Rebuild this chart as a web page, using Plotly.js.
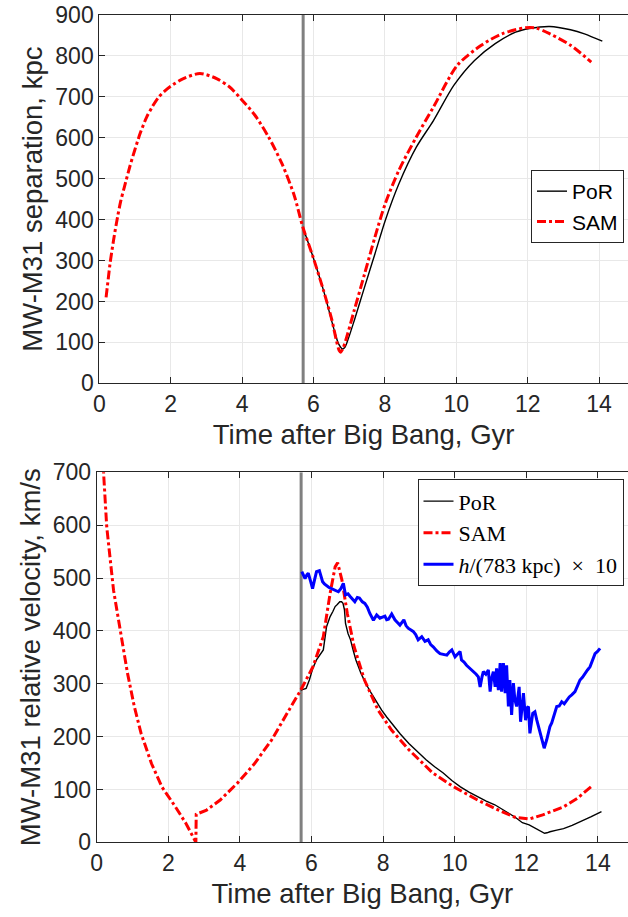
<!DOCTYPE html>
<html>
<head>
<meta charset="utf-8">
<script src="https://cdn.plot.ly/plotly-3.0.1.min.js"></script>
<style>html,body{margin:0;padding:0;background:#fff;}</style>
</head>
<body>
<div id="chart" style="width:628px;height:917px;"></div>
<script>
// ---------- data ----------
const markerTime = 5.71; // vertical reference line, Gyr
const sepRange = [0, 900];
const velRange = [0, 700];

// Top panel: MW-M31 separation (kpc)
const sepSAM_t = [0.19,0.25,0.30,0.40,0.51,0.60,0.70,0.85,0.99,1.15,1.33,1.50,1.66,1.83,2.00,2.34,2.82,3.30,3.65,3.97,4.36,4.74,5.12,5.46,5.70,5.99,6.28,6.52,6.64,6.72,6.76,6.82,6.90,7.14,7.43,7.72,8.01,8.39,8.88,9.36,10.03,10.70,11.28,11.95,12.24,12.62,13.20,13.78];
const sepSAM_v = [210,255,292,350,406,445,479,528,569,612,651,678,699,714,726,744,757,744,724,695,655,602,536,459,382,308,227,153,105,80,76,84,104,178,267,357,439,520,602,675,777,826,854,869,868,854,826,785];

const sepPoR_t = [5.70,5.99,6.28,6.57,6.70,6.81,6.88,6.96,7.14,7.43,7.72,8.01,8.39,8.88,9.36,9.93,10.51,11.09,11.66,12.05,12.62,13.20,13.59,14.09];
const sepPoR_v = [382,308,227,133,97,84,88,105,153,235,316,398,487,577,642,728,789,830,858,867,872,864,854,836];

// Bottom panel: relative velocity (km/s)
const velSAM_t = [0.14,0.20,0.28,0.47,0.67,0.86,1.05,1.24,1.53,1.82,2.20,2.49,2.74,2.77,2.78,3.07,3.45,3.93,4.41,4.89,5.37,5.70,6.04,6.33,6.52,6.66,6.73,6.85,7.00,7.19,7.48,7.86,8.24,8.72,9.39,9.97,10.64,11.31,11.70,12.08,12.46,13.04,13.42,13.81];
const velSAM_v = [760,680,597,477,395,320,257,206,149,105,67,36,4,0,53,61,80,112,149,194,250,288,332,389,471,521,529,496,433,370,307,250,212,175,131,105,80,58,47,44,52,67,83,105];

const velPoR_t = [5.70,5.78,5.85,5.94,6.04,6.14,6.25,6.33,6.42,6.52,6.60,6.66,6.72,6.79,6.84,6.88,6.92,6.95,7.02,7.09,7.17,7.24,7.38,7.52,7.67,7.82,7.96,8.10,8.24,8.48,8.72,8.96,9.20,9.44,9.68,9.92,10.16,10.40,10.64,10.88,11.12,11.32,11.51,11.70,11.89,12.08,12.27,12.40,12.51,12.58,12.66,12.85,13.04,13.28,13.52,13.80,14.10];
const velPoR_v = [288,289,291,307,330,345,355,364,408,427,437,446,450,455,455,452,440,414,395,383,362,345,320,300,282,265,250,237,225,205,187,171,156,143,131,117,105,95,86,78,71,62,55,47,37,33,26,22,17,18,20,23,26,32,39,48,58];

const hRatio_t = [5.73,5.78,5.82,5.87,5.91,5.97,6.03,6.09,6.14,6.22,6.27,6.31,6.36,6.42,6.49,6.56,6.65,6.75,6.82,6.89,6.95,7.02,7.08,7.15,7.21,7.28,7.34,7.42,7.49,7.56,7.63,7.73,7.82,7.91,8.05,8.10,8.15,8.24,8.33,8.40,8.47,8.58,8.64,8.70,8.84,8.91,8.98,9.08,9.17,9.26,9.33,9.40,9.50,9.59,9.70,9.78,9.85,9.92,10.01,10.08,10.15,10.19,10.26,10.33,10.43,10.52,10.60,10.66,10.71,10.76,10.80,10.87,10.94,10.99,11.03,11.08,11.13,11.17,11.22,11.27,11.31,11.36,11.41,11.45,11.50,11.54,11.59,11.64,11.68,11.73,11.80,11.84,11.88,11.92,11.98,12.03,12.06,12.10,12.18,12.24,12.29,12.34,12.43,12.50,12.57,12.62,12.66,12.71,12.76,12.85,12.92,12.99,13.06,13.13,13.20,13.27,13.36,13.43,13.50,13.57,13.64,13.71,13.78,13.85,13.92,13.99,14.06];
const hRatio_v = [512,505,499,506,509,495,480,498,512,514,502,493,489,485,482,480,477,474,480,490,468,470,465,460,455,463,462,455,452,445,433,420,430,424,428,421,422,432,421,416,411,421,410,405,399,393,383,389,380,383,374,370,362,357,356,354,360,364,351,356,361,345,341,335,329,323,318,313,294,312,323,318,326,285,310,323,294,329,288,339,285,339,282,335,257,307,241,301,270,257,294,228,262,282,231,255,257,206,244,247,232,219,200,178,194,208,219,226,238,257,258,266,262,269,275,279,285,296,307,312,320,326,332,345,357,361,367];

const xTicks = [0,2,4,6,8,10,12,14];
const sepTicks = [0,100,200,300,400,500,600,700,800,900];
const velTicks = [0,100,200,300,400,500,600,700];

// ---------- styling ----------
const W = 628, H = 917;
const ink = '#262626';
const grid = '#e8e8e8';
const sans = 'Liberation Sans, Arial, Helvetica, sans-serif';
const serif = 'Liberation Serif, Times New Roman, serif';

const traces = [
  {x:[markerTime, markerTime], y:sepRange, xaxis:'x', yaxis:'y', mode:'lines',
   line:{color:'#808080', width:3}, showlegend:false, hoverinfo:'skip'},
  {x:[markerTime, markerTime], y:velRange, xaxis:'x2', yaxis:'y2', mode:'lines',
   line:{color:'#808080', width:3}, showlegend:false, hoverinfo:'skip'},
  {x: sepPoR_t, y: sepPoR_v, xaxis:'x', yaxis:'y', mode:'lines', name:'PoR',
   line:{color:'#000000', width:1.4, shape:'spline', smoothing:0.8}, legend:'legend'},
  {x: sepSAM_t, y: sepSAM_v, xaxis:'x', yaxis:'y', mode:'lines', name:'SAM',
   line:{color:'#ff0000', width:3, dash:'dashdot', shape:'spline', smoothing:0.8}, legend:'legend'},
  {x: velPoR_t, y: velPoR_v, xaxis:'x2', yaxis:'y2', mode:'lines', name:'PoR',
   line:{color:'#000000', width:1.4}, legend:'legend2'},
  {x: velSAM_t, y: velSAM_v, xaxis:'x2', yaxis:'y2', mode:'lines', name:'SAM',
   line:{color:'#ff0000', width:3, dash:'dashdot'}, legend:'legend2'},
  {x: hRatio_t, y: hRatio_v, xaxis:'x2', yaxis:'y2', mode:'lines',
   name:'<i>h</i>/(783\u00a0kpc)\u00a0\u00a0×\u00a0\u00a010',
   line:{color:'#0000ff', width:3}, legend:'legend2'}
];

function xAxis(dom, rng, anchor) {
  return {
    domain: dom, range: rng, anchor: anchor, tickvals: xTicks,
    ticks:'inside', ticklen:6, tickcolor: ink, tickwidth:1,
    showline:true, linecolor: ink, linewidth:1, mirror:'ticks',
    showgrid:true, gridcolor: grid, gridwidth:1, zeroline:false,
    tickfont:{family:sans, size:23, color:ink},
    title:{text:'Time after Big Bang, Gyr', font:{family:sans, size:27.5, color:ink}, standoff:8},
    automargin:false
  };
}
function yAxis(dom, rng, anchor, ticks, title) {
  return {
    domain: dom, range: rng, anchor: anchor, tickvals: ticks,
    ticks:'inside', ticklen:6, tickcolor: ink, tickwidth:1,
    showline:true, linecolor: ink, linewidth:1, mirror:false,
    showgrid:true, gridcolor: grid, gridwidth:1, zeroline:false,
    tickfont:{family:sans, size:23, color:ink},
    title:{text:title, font:{family:sans, size:27.5, color:ink}, standoff:4},
    automargin:false
  };
}

const topL = 99.3, topPx = 35.7;
const botL = 96.7, botPx = 35.8;

const layout = {
  width: W, height: H,
  margin:{l:0, r:0, t:0, b:0},
  paper_bgcolor:'#ffffff', plot_bgcolor:'#ffffff',
  showlegend:true,
  xaxis: xAxis([topL/W, 1], [0, (W-topL)/topPx], 'y'),
  yaxis: yAxis([1-383.3/H, 1-15/H], sepRange, 'x', sepTicks, 'MW-M31 separation, kpc'),
  xaxis2: xAxis([botL/W, 1], [0, (W-botL)/botPx], 'y2'),
  yaxis2: yAxis([1-842.3/H, 1-472.3/H], velRange, 'x2', velTicks, 'MW-M31 relative velocity, km/s'),
  legend:{x:624/W, y:1-170/H, xanchor:'right', yanchor:'top',
    bgcolor:'#ffffff', bordercolor:ink, borderwidth:1,
    font:{family:sans, size:21, color:'#000'}, itemwidth:30, tracegroupgap:0},
  legend2:{x:623.5/W, y:1-479.3/H, xanchor:'right', yanchor:'top',
    bgcolor:'#ffffff', bordercolor:ink, borderwidth:1,
    font:{family:serif, size:22, color:'#000'}, itemwidth:30, tracegroupgap:0}
};

Plotly.newPlot('chart', traces, layout, {staticPlot:true, displayModeBar:false});
</script>
</body>
</html>
